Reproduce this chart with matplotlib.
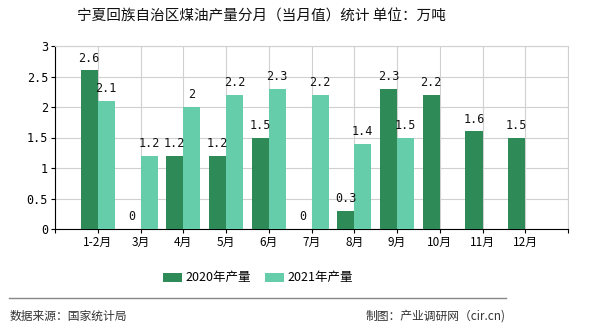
import matplotlib
matplotlib.use("Agg")
import matplotlib.pyplot as plt
import numpy as np

plt.rcParams['font.family'] = ['Noto Sans CJK SC', 'DejaVu Sans']

months = ["1-2月", "3月", "4月", "5月", "6月", "7月", "8月", "9月", "10月", "11月", "12月"]
output_2020 = [2.6, 0, 1.2, 1.2, 1.5, 0, 0.3, 2.3, 2.2, 1.6, 1.5]
output_2021 = [2.1, 1.2, 2, 2.2, 2.3, 2.2, 1.4, 1.5, None, None, None]
series_names = ["2020年产量", "2021年产量"]
yticks = [0, 0.5, 1, 1.5, 2, 2.5, 3]

c2020 = "#2E8B57"
c2021 = "#66CDAA"

fig = plt.figure(figsize=(5.9, 3.3), dpi=100)
ax = fig.add_axes([55/590, 1 - 229/330, (568-55)/590, (229-46)/330])

x = np.arange(1, len(months) + 1)
w = 0.4

def fmt(v):
    return ("%g" % v)

for xs, vals, col, name in [(x - w/2, output_2020, c2020, series_names[0]),
                            (x + w/2, output_2021, c2021, series_names[1])]:
    xv = [xi for xi, v in zip(xs, vals) if v is not None]
    yv = [v for v in vals if v is not None]
    ax.bar(xv, yv, width=w, color=col, label=name, zorder=3)
    for xi, v in zip(xv, yv):
        ax.annotate(fmt(v), (xi, v), xytext=(0, 4), textcoords="offset points",
                    ha="center", va="bottom", fontsize=8.5,
                    family="DejaVu Sans Mono", color="#111111", zorder=4)

ax.set_xlim(0, 12)
ax.set_ylim(0, 3)
ax.set_yticks(yticks)
ax.set_yticklabels([fmt(t) for t in yticks], family="DejaVu Sans Mono", fontsize=8.5)
ax.set_xticks(np.arange(0, 13))
ax.set_xticklabels([""] + months + [""], fontsize=8.5)
ax.grid(True, color="#d0d0d0", linewidth=0.8, zorder=0)
ax.set_axisbelow(True)
for s in ["top", "right"]:
    ax.spines[s].set_color("#d0d0d0")
for s in ["left", "bottom"]:
    ax.spines[s].set_color("#000000")
ax.tick_params(axis="both", length=3, width=0.8, color="#000000", pad=2)

fig.text(261/590, 1 - 17/330, "宁夏回族自治区煤油产量分月（当月值）统计 单位：万吨",
         ha="center", va="center", fontsize=10.5, color="#111111")

handles, labels = ax.get_legend_handles_labels()
fig.legend(handles, labels, loc="center", bbox_to_anchor=(258/590, 1 - 278/330),
           ncol=2, frameon=False, fontsize=9, handlelength=1.5, handleheight=0.7,
           columnspacing=1.1, handletextpad=0.3)

fig.add_artist(plt.Line2D([9/590, 506/590], [1 - 298/330, 1 - 298/330],
                          color="#888888", linewidth=1.0))
fig.text(10/590, 1 - 316/330, "数据来源：国家统计局", ha="left", va="center",
         fontsize=8.5, color="#333333")
fig.text(506/590, 1 - 316/330, "制图：产业调研网（cir.cn)", ha="right", va="center",
         fontsize=8.5, color="#333333")

fig.savefig("out.png", dpi=100)
